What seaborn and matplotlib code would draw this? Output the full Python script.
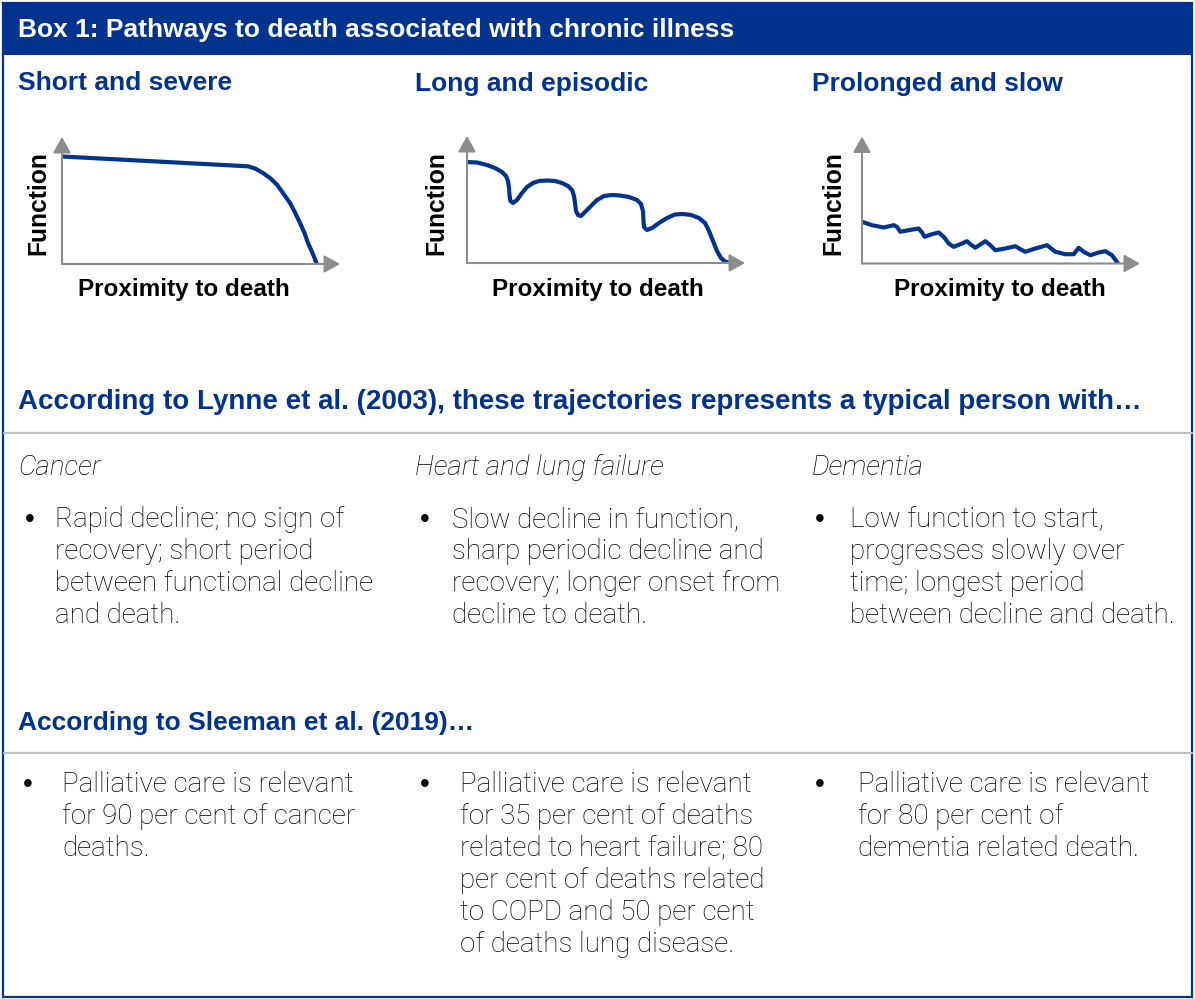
import matplotlib
matplotlib.use("Agg")
import matplotlib.pyplot as plt
import seaborn as sns
from matplotlib.patches import Rectangle

# ---------------- data ----------------
box_title = "Box 1: Pathways to death associated with chronic illness"
panel_titles = ["Short and severe", "Long and episodic", "Prolonged and slow"]
x_label = "Proximity to death"
y_label = "Function"

# trajectories: x = time towards death, y = function level
short_x = [0, 186, 193, 201, 208, 215, 221, 228, 233, 238, 242.5, 246, 250.5, 254.5]
short_y = [107.5, 97.7, 95.5, 91, 86, 79.3, 71, 61, 51.5, 41, 31, 21, 11, 1]

long_x = [0, 10, 20, 28, 35, 39, 41, 42, 42.5, 43.5, 46, 50, 55, 60, 66, 72, 80, 88, 95,
          101, 105, 107, 108, 109, 111, 114, 118, 124, 130, 137, 145, 153, 162, 170, 174,
          176, 176.5, 177, 180, 185, 192, 200, 208, 216, 224, 232, 238, 242, 246, 250,
          254, 258, 263]
long_y = [101, 100.5, 98, 95, 91, 87, 82, 75, 68, 62, 60, 63, 70, 76, 80, 82, 82.5, 82, 80,
          77, 73, 67, 60, 52, 48, 47, 51, 57, 63, 67, 68, 67.5, 66, 63, 59,
          52, 42, 36, 33, 35, 40, 45, 48.5, 49, 48, 45, 40, 32, 22, 12,
          5, 1.5, 0]

slow_x = [0, 10, 21.7, 31.7, 35, 38.3, 46.7, 56.7, 60, 62.7, 70, 76.7, 81.7, 86.7, 91.7,
          98.3, 105, 108.3, 113.3, 118.3, 123.3, 128.3, 133.3, 143.3, 153.3, 158.3, 163.3,
          173.3, 185, 188.3, 193.3, 203.3, 211.7, 216.7, 221.7, 228.3, 236.7, 243.3, 250, 256]
slow_y = [41.7, 38.3, 36, 38.3, 36.7, 31.7, 33.3, 35, 31, 26.7, 29.3, 31, 26.7, 20, 16.7,
          19.3, 22.3, 19.3, 15.7, 19, 22.3, 18.3, 13.3, 15, 17.3, 14.3, 11.7,
          15, 18.3, 15.7, 11.7, 9.3, 9.3, 15.7, 11.7, 8.3, 11, 12.3, 8.3, 0]

trajectories = [(short_x, short_y), (long_x, long_y), (slow_x, slow_y)]

lynne_heading = "According to Lynne et al. (2003), these trajectories represents a typical person with…"
conditions = ["Cancer", "Heart and lung failure", "Dementia"]
lynne_text = [
    ["Rapid decline; no sign of", "recovery; short period", "between functional decline", "and death."],
    ["Slow decline in function,", "sharp periodic decline and", "recovery; longer onset from", "decline to death."],
    ["Low function to start,", "progresses slowly over", "time; longest period", "between decline and death."],
]
sleeman_heading = "According to Sleeman et al. (2019)…"
sleeman_text = [
    ["Palliative care is relevant", "for 90 per cent of cancer", "deaths."],
    ["Palliative care is relevant", "for 35 per cent of deaths", "related to heart failure; 80",
     "per cent of deaths related", "to COPD and 50 per cent", "of deaths lung disease."],
    ["Palliative care is relevant", "for 80 per cent of", "dementia related death."],
]

# ---------------- style ----------------
BLUE = "#00338D"
GREY_AX = "#8c8c8c"
GREY_LINE = "#c0c0c0"
sns.set_theme(style="white")
plt.rcParams["font.family"] = ["Liberation Sans", "DejaVu Sans"]
BODY = ["Roboto", "DejaVu Sans"]
BODY_SIZE = 20
TXT = "#000000"

W, H = 1195, 999
fig = plt.figure(figsize=(W / 100, H / 100), dpi=100)
bg = fig.add_axes([0, 0, 1, 1], zorder=0)
bg.set_xlim(0, W)
bg.set_ylim(H, 0)
bg.axis("off")

# frame + header
bg.add_patch(Rectangle((3, 3), 1189, 52, facecolor=BLUE, edgecolor="none"))
bg.add_patch(Rectangle((3, 3), 1189, 994, facecolor="none", edgecolor=BLUE, lw=1.6))
bg.text(18, 37.5, box_title, color="white", fontsize=19, fontweight="bold", va="baseline")

col_x = [18, 415, 812]
origins = [(62, 264), (467, 263), (862, 263.5)]
ylab_x = [38, 436, 833]
xlab_cx = [184, 598, 1000]
AW, AH = 290, 135

for i in range(3):
    bg.text(col_x[i], 90.5, panel_titles[i], color=BLUE, fontsize=19, fontweight="bold", va="baseline")
    ox, oy = origins[i]
    ax = fig.add_axes([ox / W, (H - oy) / H, AW / W, AH / H], zorder=2)
    ax.set_xlim(0, AW)
    ax.set_ylim(0, AH)
    ax.axis("off")
    ax.patch.set_alpha(0)
    arrow = dict(arrowstyle="-|>,head_length=0.8,head_width=0.45", color=GREY_AX, lw=1.5,
                 mutation_scale=12, shrinkA=0, shrinkB=0)
    ax.annotate("", xy=(278, 0), xytext=(0, 0), arrowprops=arrow, annotation_clip=False)
    ax.annotate("", xy=(0, 127), xytext=(0, 0), arrowprops=arrow, annotation_clip=False)
    tx, ty = trajectories[i]
    sns.lineplot(x=tx, y=ty, ax=ax, sort=False, estimator=None, color=BLUE, linewidth=3,
                 solid_joinstyle="round", solid_capstyle="round")
    bg.text(ylab_x[i], 203, y_label, rotation=90, fontsize=17.7, fontweight="bold",
            color="black", ha="center", va="center")
    bg.text(xlab_cx[i], 296, x_label, fontsize=17.5, fontweight="bold", color="black",
            ha="center", va="baseline")

# Lynne section
bg.text(18, 409, lynne_heading, color=BLUE, fontsize=20, fontweight="bold", va="baseline")
bg.plot([4, 1192], [433, 433], color=GREY_LINE, lw=1.6)
bullet_x1 = [30, 425, 820]
text_x1 = [55, 452, 850]
for i in range(3):
    bg.text(col_x[i], 475, conditions[i], fontsize=BODY_SIZE, style="italic", family=BODY,
            fontweight="light", color=TXT, va="baseline")
    bg.text(bullet_x1[i], 527, "•", fontsize=BODY_SIZE, family=["Liberation Sans"],
            color="black", ha="center", va="baseline")
    for j, line in enumerate(lynne_text[i]):
        bg.text(text_x1[i], 527 + 32 * j, line, fontsize=BODY_SIZE, family=BODY,
                fontweight="light", color=TXT, va="baseline")

# Sleeman section
bg.text(18, 730, sleeman_heading, color=BLUE, fontsize=19, fontweight="bold", va="baseline")
bg.plot([4, 1192], [753, 753], color=GREY_LINE, lw=1.6)
bullet_x2 = [28, 425, 820]
text_x2 = [62, 460, 858]
for i in range(3):
    bg.text(bullet_x2[i], 792, "•", fontsize=BODY_SIZE, family=["Liberation Sans"],
            color="black", ha="center", va="baseline")
    for j, line in enumerate(sleeman_text[i]):
        bg.text(text_x2[i], 792 + 32 * j, line, fontsize=BODY_SIZE, family=BODY,
                fontweight="light", color=TXT, va="baseline")

fig.savefig("out.png", dpi=100)
